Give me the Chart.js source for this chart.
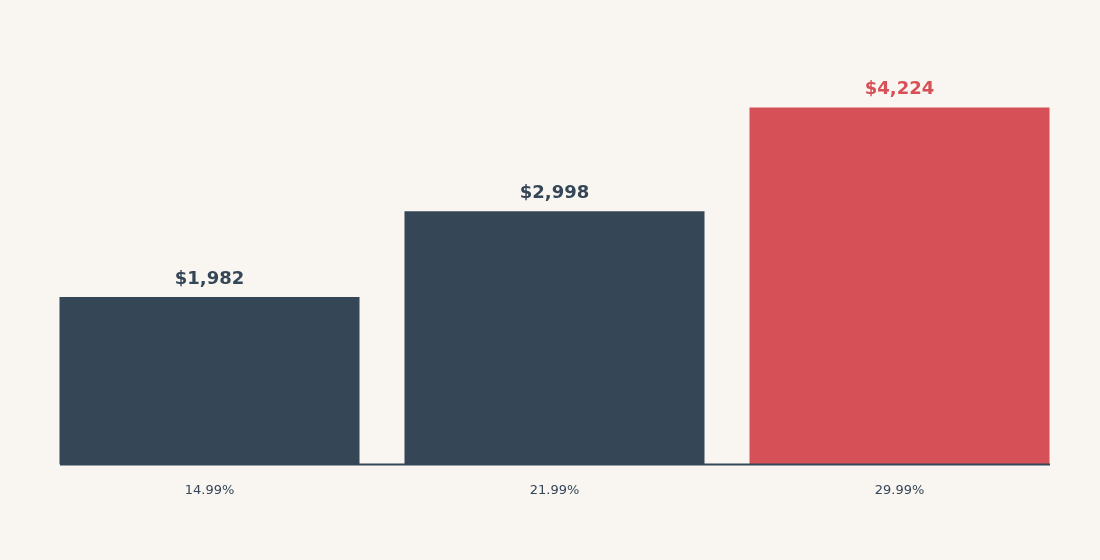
<!DOCTYPE html>
<html><head><meta charset="utf-8">
<script src="https://cdn.jsdelivr.net/npm/chart.js@4"></script>
<style>html,body{margin:0;padding:0;background:#f9f6f1;}#w{width:1100px;height:560px;}</style>
</head><body><div id="w"><canvas id="c"></canvas></div>
<script>
const categories = ["14.99%", "21.99%", "29.99%"];
const values = [1982, 2998, 4224];
const valueLabels = ["$1,982", "$2,998", "$4,224"];
const colors = ["#354657", "#354657", "#d65157"];

const labelPlugin = {
  id: 'vals',
  afterDatasetsDraw(chart) {
    const ctx = chart.ctx;
    const meta = chart.getDatasetMeta(0);
    ctx.save();
    ctx.strokeStyle = '#354657';
    ctx.lineWidth = 2;
    const yb = chart.scales.y.getPixelForValue(0);
    ctx.beginPath(); ctx.moveTo(60, yb); ctx.lineTo(1050, yb); ctx.stroke();
    ctx.font = 'bold 18px "DejaVu Sans"';
    ctx.textAlign = 'center';
    ctx.textBaseline = 'bottom';
    meta.data.forEach((b, i) => {
      ctx.fillStyle = colors[i];
      ctx.fillText(valueLabels[i], b.x, b.y - 9);
    });
    ctx.restore();
  }
};

new Chart(document.getElementById('c'), {
  type: 'bar',
  data: { labels: categories, datasets: [{ data: values, backgroundColor: colors, barPercentage: 0.8696, categoryPercentage: 1 }] },
  options: {
    responsive: true, maintainAspectRatio: false, animation: false,
    layout: { padding: { left: 37, right: 28, top: 42, bottom: 44 } },
    plugins: { legend: { display: false }, tooltip: { enabled: false } },
    scales: {
      y: { display: false, min: 0, max: 5000 },
      x: { grid: { display: false, drawTicks: false }, border: { display: false },
           ticks: { color: '#354657', font: { family: 'DejaVu Sans', size: 13 }, padding: 18 } }
    }
  },
  plugins: [labelPlugin]
});
</script></body></html>
